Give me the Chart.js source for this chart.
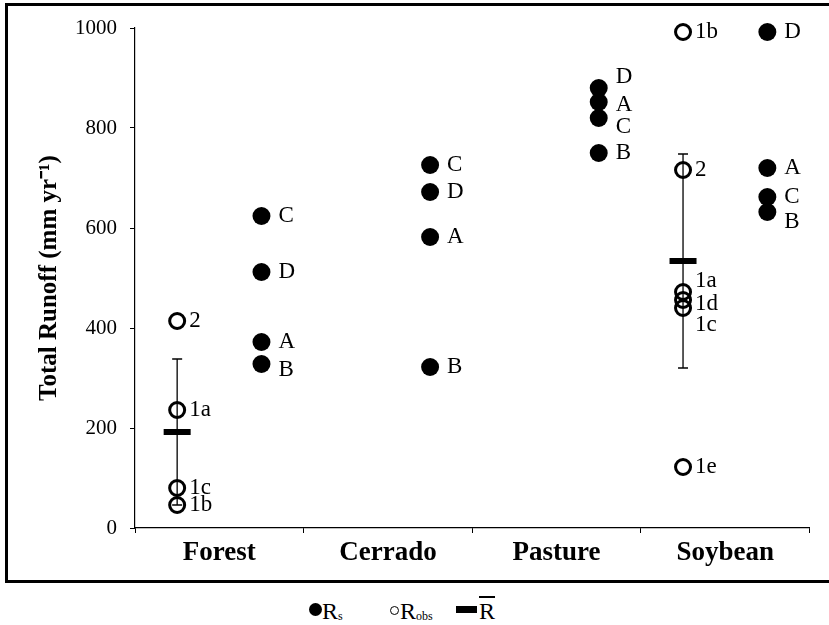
<!DOCTYPE html>
<html>
<head>
<meta charset="utf-8">
<script src="https://cdn.jsdelivr.net/npm/chart.js@4.4.0/dist/chart.umd.min.js"></script>
<style>
  body { margin: 0; background: #fff; width: 829px; height: 625px; overflow: hidden; position: relative; font-family: "Liberation Serif", serif; }
  #runoff-chart { position: absolute; left: 0; top: 0; }
  #frame { position: absolute; left: 5px; top: 3px; width: 900px; height: 580px; box-sizing: border-box; border: 3px solid #000; pointer-events: none; }
  .lg { position: absolute; color: #000; font-size: 24px; line-height: 24px; white-space: nowrap; }
  .lg sub { font-size: 12px; vertical-align: baseline; position: relative; top: 1px; }
  .mark { position: absolute; box-sizing: border-box; }
</style>
</head>
<body>
<canvas id="runoff-chart" width="829" height="583"></canvas>
<div id="frame"></div>
<div class="mark" style="left:309px;top:603px;width:13px;height:13px;border-radius:50%;background:#000"></div>
<div class="lg" style="left:322px;top:599px">R<sub>s</sub></div>
<div class="mark" style="left:390px;top:606px;width:9px;height:9px;border-radius:50%;border:1.5px solid #000"></div>
<div class="lg" style="left:400px;top:599px">R<sub>obs</sub></div>
<div class="mark" style="left:456px;top:606px;width:21px;height:7px;background:#000"></div>
<div class="lg" style="left:479px;top:599px;text-decoration:overline">R</div>
<script>
const categories = ['Forest', 'Cerrado', 'Pasture', 'Soybean'];
const yTickValues = [0, 200, 400, 600, 800, 1000];

// observed runoff (open circles)
const forestObs = [414, 236, 80, 46];
const forestObsLabels = ['2', '1a', '1c', '1b'];
const soybeanObs = [992, 716, 472, 456, 440, 122];
const soybeanObsLabels = ['1b', '2', '1a', '1d', '1c', '1e'];

// simulated runoff Rs (filled circles)
const forestRs = [624, 512, 372, 328];
const forestRsLabels = ['C', 'D', 'A', 'B'];
const cerradoRs = [726, 672, 582, 322];
const cerradoRsLabels = ['C', 'D', 'A', 'B'];
const pastureRs = [880, 852, 820, 750];
const pastureRsLabels = ['D', 'A', 'C', 'B'];
const soybeanRs = [992, 720, 662, 632];
const soybeanRsLabels = ['D', 'A', 'C', 'B'];

// mean observed runoff and spread
const meanObs = [192, null, null, 534];
const sdObs = [146, null, null, 214];

// small vertical nudges so crowded labels don't overlap (px)
const labelShift = {
    'Forest-B': 6,
    'Pasture-D': -11, 'Pasture-A': 3, 'Pasture-C': 9,
    'Soybean-1a': -11, 'Soybean-1d': 4, 'Soybean-1c': 17,
    'Soybean-B': 10
};

const OBS_POS = 0.25;
const RS_POS = 0.75;

function points(cat, values, labels, pos) {
    const x = categories.indexOf(cat) + pos;
    return values.map((v, i) => ({ x, y: v, label: labels[i], shift: labelShift[cat + '-' + labels[i]] || 0 }));
}

const rsPoints = [
    ...points('Forest', forestRs, forestRsLabels, RS_POS),
    ...points('Cerrado', cerradoRs, cerradoRsLabels, RS_POS),
    ...points('Pasture', pastureRs, pastureRsLabels, RS_POS),
    ...points('Soybean', soybeanRs, soybeanRsLabels, RS_POS)
];
const obsPoints = [
    ...points('Forest', forestObs, forestObsLabels, OBS_POS),
    ...points('Soybean', soybeanObs, soybeanObsLabels, OBS_POS)
];

const datasets = [];
meanObs.forEach((m, i) => {
    if (m === null) 
        return;
    const x = i + OBS_POS;
    datasets.push({
        label: 'sd ' + categories[i],
        data: [{ x, y: m - sdObs[i] }, { x, y: m + sdObs[i] }],
        showLine: true,
        borderColor: '#000',
        borderWidth: 1.3,
        pointStyle: 'line',
        pointRadius: 5,
        pointBorderWidth: 1.3,
        pointBorderColor: '#000',
        order: 4
    });
});
datasets.push({
    label: 'mean',
    data: meanObs.map((m, i) => m === null ? null : { x: i + OBS_POS, y: m }).filter(Boolean),
    pointStyle: 'line',
    pointRadius: 13.5,
    pointBorderWidth: 6,
    pointBorderColor: '#000',
    order: 0
});
datasets.push({
    label: 'Robs',
    data: obsPoints,
    pointRadius: 7.5,
    pointBorderWidth: 3,
    pointBorderColor: '#000',
    pointBackgroundColor: 'rgba(0,0,0,0)',
    labelGap: 12,
    clip: false,
    order: 2
});
datasets.push({
    label: 'Rs',
    data: rsPoints,
    pointRadius: 9,
    pointBorderWidth: 0,
    pointBackgroundColor: '#000',
    labelGap: 17,
    clip: false,
    order: 1
});

const pointLabels = {
    id: 'pointLabels',
    afterDatasetsDraw(chart) {
        const ctx = chart.ctx;
        ctx.save();
        ctx.font = '23px "Liberation Serif"';
        ctx.fillStyle = '#000';
        ctx.textBaseline = 'middle';
        chart.data.datasets.forEach((ds, di) => {
            if (!ds.labelGap) 
                return;
            chart.getDatasetMeta(di).data.forEach((el, i) => {
                const d = ds.data[i];
                ctx.fillText(d.label, el.x + ds.labelGap, el.y + d.shift);
            });
        });
        ctx.restore();
    }
};

Chart.defaults.font.family = '"Liberation Serif", serif';
Chart.defaults.color = '#000';

new Chart(document.getElementById('runoff-chart'), {
    type: 'scatter',
    data: { datasets },
    options: {
        responsive: false,
        animation: false,
        layout: { padding: { left: 0, right: 16, top: 28, bottom: 0 } },
        plugins: { legend: { display: false }, tooltip: { enabled: false } },
        scales: {
            x: {
                type: 'linear',
                min: 0,
                max: categories.length,
                afterFit: s => { s.height = 55; },
                ticks: {
                    stepSize: 0.5,
                    autoSkip: false,
                    maxRotation: 0,
                    padding: 4,
                    font: { size: 27, weight: 'bold' },
                    callback: v => (v % 1 === 0.5) ? categories[Math.floor(v)] : ''
                },
                grid: {
                    drawOnChartArea: false,
                    tickLength: 5,
                    tickColor: c => (c.tick && c.tick.value % 1 === 0) ? '#000' : 'rgba(0,0,0,0)'
                },
                border: { color: '#000', width: 1.2 }
            },
            y: {
                min: 0,
                max: 1000,
                afterFit: s => { s.width = 135; },
                afterBuildTicks: s => { s.ticks = yTickValues.map(v => ({ value: v })); },
                ticks: { padding: 13, font: { size: 21 }, callback: v => String(v) },
                grid: { drawOnChartArea: false, tickLength: 5, tickColor: '#000' },
                border: { color: '#000', width: 1.2 },
                title: {
                    display: true,
                    text: 'Total Runoff (mm yr\u207B\u00B9)',
                    font: { size: 25, weight: 'bold' },
                    padding: { top: 35, bottom: 0 }
                }
            }
        }
    },
    plugins: [pointLabels]
});
</script>
</body>
</html>
